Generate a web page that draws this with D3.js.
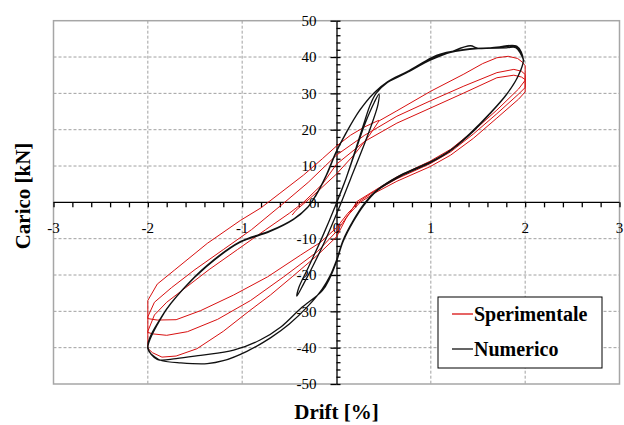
<!DOCTYPE html>
<html>
<head>
<meta charset="utf-8">
<script src="https://cdn.jsdelivr.net/npm/d3@7/dist/d3.min.js"></script>
<style>
  body { margin: 0; background: #fff; }
  svg { display: block; }
  text { font-family: "Liberation Serif", "Times New Roman", serif; fill: #000; }
</style>
</head>
<body>
<svg id="chart" width="624" height="425"></svg>
<script>
// ---- tick labels ----
const xTickLabels = [-3, -2, -1, 0, 1, 2, 3];
const yTickLabels = [-50, -40, -30, -20, -10, 0, 10, 20, 30, 40, 50];

// ---- experimental curve (drift %, load kN), branch by branch ----
const speStart = [[-0.47,-3.5],[-0.43,-2.2],[-0.25,1.8],[0,7.8],[0.2,13.5],[0.35,18.5],[0.45,22.4]];
const speUp1 = [[0.64,25.2],[1.0,30.6],[1.35,35.3],[1.55,38.2],[1.7,39.8],[1.82,40.2],[1.92,39.6],[1.97,38.6],[2.0,37.6],[2.0,33.6]];
const speDown1 = [[1.93,31.2],[1.7,25.4],[1.45,19.6],[1.21,14.6],[0.99,11.3],[0.64,7.0],[0.4,3.2],[0.22,0.3],[0.1,-4.5],[0,-9.5],[-0.2,-14.5],[-0.47,-20.5],[-0.7,-25.5],[-0.92,-29.8],[-1.2,-35.5],[-1.48,-40.3],[-1.7,-42.3],[-1.85,-42.6],[-1.95,-41.4],[-2.0,-40.2],[-2.0,-35.5]];
const speUp2 = [[-1.93,-31],[-1.8,-27.5],[-1.6,-23.5],[-1.35,-18.5],[-1.05,-13],[-0.75,-7.5],[-0.5,-3],[-0.35,0],[-0.15,5],[0,10.5],[0.3,16.8],[0.64,21.8],[1.0,26],[1.35,30.1],[1.7,34.3],[1.88,35.0],[1.96,34.5],[2.0,33.8],[2.0,30.4]];
const speDown2 = [[1.93,28.4],[1.7,23.2],[1.45,17.6],[1.21,13.0],[0.99,9.8],[0.64,5.8],[0.4,2.5],[0.25,0],[0.12,-3.6],[0,-8],[-0.2,-13.5],[-0.56,-20.5],[-0.91,-27],[-1.26,-32.2],[-1.58,-35.6],[-1.8,-36.6],[-1.95,-36.2],[-2,-35.8],[-2,-31.5]];
const speUp3 = [[-1.93,-27.5],[-1.75,-23.5],[-1.5,-18.5],[-1.2,-13],[-0.9,-7.5],[-0.55,0],[-0.3,5.5],[-0.12,10],[0,13],[0.3,18.5],[0.64,23.7],[1.0,28],[1.35,32],[1.7,35.7],[1.88,36.6],[1.96,36.1],[2.0,35.2],[2.0,31.6]];
const speDown3 = [[1.93,29.8],[1.7,24.4],[1.45,18.8],[1.21,13.9],[0.99,10.6],[0.64,6.5],[0.4,3.0],[0.25,0.4],[0.12,-3],[0,-7],[-0.17,-11],[-0.38,-14.5],[-0.73,-20.5],[-1.09,-25.5],[-1.44,-29.8],[-1.7,-32.3],[-1.9,-32.4],[-2,-32],[-2,-27]];
const speUp4 = [[-1.9,-22.5],[-1.72,-18.7],[-1.37,-11.3],[-1.02,-5],[-0.8,-1.5],[-0.6,2.5],[-0.35,7.5],[-0.15,12],[0,15.5],[0.15,18.5],[0.3,20.8],[0.45,22.6]];

// ---- numerical curve (drift %, load kN) ----
const numInner = [[0,0],[0.1,6.5],[0.2,14],[0.3,21.5],[0.4,27.5],[0.45,29.8],[0.44,27],[0.38,22],[0.28,15],[0.15,6.5],[0.02,-2],[-0.12,-10.5],[-0.25,-17.5],[-0.35,-22.5],[-0.42,-25.8],[-0.4,-23.5],[-0.3,-18],[-0.15,-9.5],[-0.02,-1.5],[0.1,6.5],[0.22,16],[0.3,22.5],[0.36,27],[0.42,30]];
const numTop1 = [[0.54,33],[0.75,35.8],[1.0,39.2],[1.2,41.3],[1.42,43.1],[1.5,42.4],[1.7,42.7],[1.91,43.0],[1.98,39.2]];
const numDown1 = [[1.93,35],[1.81,30],[1.63,24.6],[1.42,19.1],[1.21,14.4],[1.0,11.2],[0.68,7.5],[0.43,3.4],[0.29,-0.5],[0.18,-4.9],[0.07,-10.4],[0.0,-15.9],[-0.07,-20.3],[-0.15,-23.8],[-0.3,-28.5],[-0.5,-33.5],[-0.7,-37.3],[-0.95,-41],[-1.2,-43.6],[-1.37,-44.4],[-1.65,-44.2],[-1.85,-43.6],[-1.93,-42.5],[-2.0,-40.3]];
const numUp1 = [[-1.83,-30.6],[-1.62,-23.7],[-1.37,-17.3],[-1.02,-10.8],[-0.7,-7.8],[-0.45,-4.5],[-0.3,-1.2],[-0.22,1.8],[-0.1,7.8],[0,14],[0.1,19],[0.25,25.5],[0.4,30.2],[0.54,33.2],[0.75,36],[1.0,39.7],[1.1,40.8],[1.42,42.3],[1.7,42.6],[1.9,42.8],[1.98,39.5]];
const numDown2 = [[1.92,34.5],[1.8,29.6],[1.62,24.2],[1.42,18.8],[1.2,14.1],[1.0,11.0],[0.68,7.2],[0.43,3.2],[0.29,-0.8],[0.18,-5.2],[0.07,-10.8],[0.0,-16.3],[-0.07,-20.8],[-0.15,-24.3],[-0.38,-29.2],[-0.59,-34.3],[-0.81,-37.9],[-1.09,-40.7],[-1.44,-42.1],[-1.7,-43],[-1.9,-43.2],[-2.0,-39.8]];
const numUp2 = [[-1.84,-30.9],[-1.63,-24.0],[-1.38,-17.7],[-1.03,-11.1],[-0.71,-8.1],[-0.46,-4.8],[-0.31,-1.5],[-0.23,1.5],[-0.11,7.4],[-0.01,13.6],[0.09,18.6],[0.24,25.1],[0.39,29.9],[0.53,32.9],[0.74,35.6],[1.0,39.4],[1.2,41.2],[1.5,42.3],[1.8,42.5],[1.9,42.6],[1.99,38.8]];

const speSeries = [].concat(speStart, speUp1, speDown1, speUp2, speDown2, speUp3, speDown3, speUp4);
const numSeries = [].concat(numInner, numTop1, numDown1, numUp1, numDown2, numUp2);

const svg = d3.select("#chart");
const plot = { left: 53.5, right: 619.5, top: 20.7, bottom: 384 };

const x = d3.scaleLinear().domain([-3, 3]).range([plot.left, plot.right]);
const y = d3.scaleLinear().domain([-50, 50]).range([plot.bottom, plot.top]);

// dashed grid
const grid = svg.append("g").attr("stroke", "#a0a0a0").attr("stroke-width", 1).attr("stroke-dasharray", "3,2");
grid.selectAll("line.v").data(xTickLabels.filter(v => v !== 0 && Math.abs(v) !== 3)).join("line")
  .attr("x1", d => x(d)).attr("x2", d => x(d)).attr("y1", plot.top).attr("y2", plot.bottom);
grid.selectAll("line.h").data(yTickLabels.filter(v => v !== 0 && Math.abs(v) !== 50)).join("line")
  .attr("x1", plot.left).attr("x2", plot.right).attr("y1", d => y(d)).attr("y2", d => y(d));

// plot frame
svg.append("rect").attr("x", plot.left).attr("y", plot.top)
  .attr("width", plot.right - plot.left).attr("height", plot.bottom - plot.top)
  .attr("fill", "none").attr("stroke", "#a6a6a6").attr("stroke-width", 1.5);

// x axis through zero load
const xMinor = d3.range(-15, 16).map(i => i / 5);
const xAxis = svg.append("g").attr("transform", `translate(0,${y(0)})`)
  .call(d3.axisBottom(x).tickValues(xMinor).tickSize(5).tickSizeOuter(0).tickFormat(""));
xAxis.selectAll("path, line").attr("stroke", "#000").attr("stroke-width", 1.3);

svg.append("g").selectAll("text").data(xTickLabels).join("text")
  .attr("x", d => x(d)).attr("y", y(0) + 31)
  .attr("text-anchor", "middle").attr("font-size", 15)
  .text(d => String(d));

// y axis through zero drift
const yMinor = d3.range(-25, 26).map(i => i * 2);
const yAxisR = svg.append("g").attr("transform", `translate(${x(0)},0)`)
  .call(d3.axisRight(y).tickValues(yMinor).tickSize(4).tickSizeOuter(0).tickFormat(""));
const yAxisL = svg.append("g").attr("transform", `translate(${x(0)},0)`)
  .call(d3.axisLeft(y).tickValues(yTickLabels).tickSize(6).tickSizeOuter(0).tickPadding(14)
    .tickFormat(d => String(d)));
[yAxisR, yAxisL].forEach(g => g.selectAll("path, line").attr("stroke", "#000").attr("stroke-width", 1.3));
yAxisL.selectAll("text").attr("font-size", 15).attr("font-family", "Liberation Serif, serif").attr("fill", "#000");
yAxisL.select(".domain").remove();
xAxis.select(".domain").attr("d", `M${plot.left},0H${plot.right}`);

// curves
const line = d3.line().x(d => x(d[0])).y(d => y(d[1]));
svg.append("path").datum(speSeries).attr("d", line)
  .attr("fill", "none").attr("stroke", "#d81010").attr("stroke-width", 1).attr("stroke-linejoin", "round");
svg.append("path").datum(numSeries).attr("d", line.curve(d3.curveCatmullRom.alpha(0.5)))
  .attr("fill", "none").attr("stroke", "#111").attr("stroke-width", 1.3).attr("stroke-linejoin", "round");

// axis titles
svg.append("text").attr("x", x(0)).attr("y", 419).attr("text-anchor", "middle")
  .attr("font-size", 21).attr("font-weight", "bold").text("Drift [%]");
svg.append("text").attr("transform", "translate(30,196) rotate(-90)")
  .attr("text-anchor", "middle").attr("font-size", 21).attr("font-weight", "bold").text("Carico [kN]");

// legend
const legendItems = [
  { name: "Sperimentale", color: "#d81010" },
  { name: "Numerico", color: "#111" }
];
const lg = svg.append("g").attr("transform", "translate(438,297)");
lg.append("rect").attr("width", 164).attr("height", 71).attr("fill", "#fff")
  .attr("stroke", "#000").attr("stroke-width", 1);
const li = lg.selectAll("g.item").data(legendItems).join("g")
  .attr("transform", (d, i) => `translate(0,${17 + i * 35})`);
li.append("line").attr("x1", 14).attr("x2", 35).attr("stroke", d => d.color).attr("stroke-width", 1.3);
li.append("text").attr("x", 36).attr("y", 6.5).attr("font-size", 20).attr("font-weight", "bold")
  .text(d => d.name);
</script>
</body>
</html>
